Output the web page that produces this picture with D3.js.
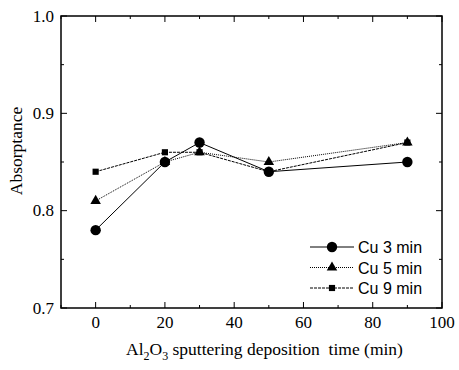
<!DOCTYPE html>
<html lang="en">
<head>
<meta charset="UTF-8">
<title>Absorptance vs Al2O3 deposition time</title>
<script src="https://d3js.org/d3.v7.min.js"></script>
<style>
    body { margin: 0; background: #fff; }
    .tick-label { font-family: "Liberation Serif", "Times New Roman", serif; font-size: 17px; fill: #000; }
    .axis-title { font-family: "Liberation Serif", "Times New Roman", serif; font-size: 17.5px; fill: #000; }
    .legend-text { font-family: "Liberation Sans", Arial, sans-serif; font-size: 16px; fill: #000; }
</style>
</head>
<body>
<div id="chart"></div>
<script>
    const times = [0, 20, 30, 50, 90];
    const cu3 = [0.78, 0.85, 0.87, 0.84, 0.85];
    const cu5 = [0.81, 0.85, 0.86, 0.85, 0.87];
    const cu9 = [0.84, 0.86, 0.86, 0.84, 0.87];
    const seriesNames = ["Cu 3 min", "Cu 5 min", "Cu 9 min"];
    const xTicks = [0, 20, 40, 60, 80, 100];
    const yTicks = [0.7, 0.8, 0.9, 1.0];

    const W = 459, H = 370;
    const margin = {top: 16, right: 17, bottom: 62, left: 61};
    const width = W - margin.left - margin.right,
          height = H - margin.top - margin.bottom;

    const svg = d3.select("#chart").append("svg")
        .attr("width", W).attr("height", H);
    const g = svg.append("g").attr("transform", `translate(${margin.left},${margin.top})`);

    const x = d3.scaleLinear().domain([-10, 100]).range([0, width]);
    const y = d3.scaleLinear().domain([0.7, 1.0]).range([height, 0]);

    // ticks (inward), major and minor, on all four sides
    const xMinor = d3.range(-10, 101, 10);
    const yMinor = d3.range(0.7, 1.001, 0.05).map(v => +v.toFixed(2));
    const tk = g.append("g").attr("stroke", "#000").attr("stroke-width", 1);
    xMinor.forEach(v => {
        const major = xTicks.includes(v);
        const len = major ? 6 : 3;
        tk.append("line").attr("x1", x(v)).attr("x2", x(v)).attr("y1", height).attr("y2", height - len);
        tk.append("line").attr("x1", x(v)).attr("x2", x(v)).attr("y1", 0).attr("y2", len);
    });
    yMinor.forEach(v => {
        const major = yTicks.some(t => Math.abs(t - v) < 1e-6);
        const len = major ? 6 : 3;
        tk.append("line").attr("y1", y(v)).attr("y2", y(v)).attr("x1", 0).attr("x2", len);
        tk.append("line").attr("y1", y(v)).attr("y2", y(v)).attr("x1", width).attr("x2", width - len);
    });

    // frame
    g.append("rect").attr("width", width).attr("height", height)
        .attr("fill", "none").attr("stroke", "#000").attr("stroke-width", 1.5);

    // tick labels
    g.selectAll(".xl").data(xTicks).enter().append("text")
        .attr("class", "tick-label").attr("text-anchor", "middle")
        .attr("x", d => x(d)).attr("y", height + 20).text(d => d);
    g.selectAll(".yl").data(yTicks).enter().append("text")
        .attr("class", "tick-label").attr("text-anchor", "end")
        .attr("x", -7).attr("y", d => y(d) + 5.5).text(d => d.toFixed(1));

    // axis titles
    const xt = g.append("text").attr("class", "axis-title").attr("text-anchor", "middle")
        .attr("x", width / 2 + 13).attr("y", height + 47);
    xt.append("tspan").text("Al");
    xt.append("tspan").attr("dy", 5).attr("font-size", 12).text("2");
    xt.append("tspan").attr("dy", -5).text("O");
    xt.append("tspan").attr("dy", 5).attr("font-size", 12).text("3");
    xt.append("tspan").attr("dy", -5).text(" sputtering deposition\u00a0 time (min)");

    g.append("text").attr("class", "axis-title").attr("text-anchor", "middle")
        .attr("transform", `translate(${-39},${height / 2 - 11}) rotate(-90)`)
        .text("Absorptance");

    // series
    const series = [
        {name: seriesNames[0], values: cu3, dash: null, symbol: d3.symbolCircle, size: 85},
        {name: seriesNames[1], values: cu5, dash: "1,1", symbol: d3.symbolTriangle, size: 48},
        {name: seriesNames[2], values: cu9, dash: "3,1", symbol: d3.symbolSquare, size: 38}
    ];
    const line = d3.line().x(d => x(d[0])).y(d => y(d[1]));

    series.forEach(s => {
        const pts = times.map((t, i) => [t, s.values[i]]);
        g.append("path").datum(pts).attr("d", line)
            .attr("fill", "none").attr("stroke", "#000").attr("stroke-width", 1)
            .attr("stroke-dasharray", s.dash);
        g.selectAll(null).data(pts).enter().append("path")
            .attr("d", d3.symbol().type(s.symbol).size(s.size))
            .attr("transform", d => `translate(${x(d[0])},${y(d[1])})`)
            .attr("fill", "#000");
    });

    // legend
    const lg = g.append("g").attr("transform", `translate(${310 - margin.left},${247 - margin.top})`);
    series.forEach((s, i) => {
        const row = lg.append("g").attr("transform", `translate(0,${i * 20.5})`);
        row.append("line").attr("x1", 0).attr("x2", 44).attr("y1", 0).attr("y2", 0)
            .attr("stroke", "#000").attr("stroke-width", 1).attr("stroke-dasharray", s.dash);
        row.append("path").attr("d", d3.symbol().type(s.symbol).size(s.size))
            .attr("transform", "translate(22,0)").attr("fill", "#000");
        row.append("text").attr("class", "legend-text").attr("x", 48).attr("y", 6).text(s.name);
    });
</script>
</body>
</html>
